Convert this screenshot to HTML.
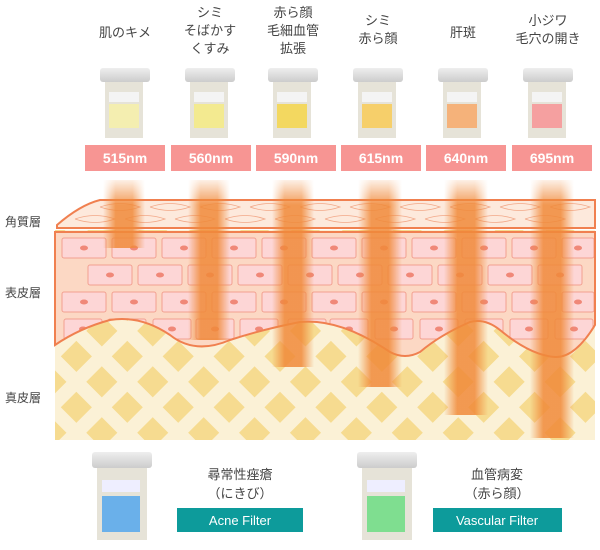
<!DOCTYPE html>
<html><head><meta charset="utf-8"><style>
body{margin:0;background:#fff;}
svg{display:block;font-family:"Liberation Sans","Noto Sans CJK JP",sans-serif;}
</style></head><body>
<svg width="600" height="550" viewBox="0 0 600 550" xmlns="http://www.w3.org/2000/svg">
<defs>
<pattern id="dia" width="36" height="36" patternUnits="userSpaceOnUse" patternTransform="rotate(45)">
<rect width="36" height="36" fill="#fbf1d6"/>
<rect x="7" y="7" width="22" height="22" fill="#f6db90"/>
</pattern>
<linearGradient id="beam" x1="0" x2="1" y1="0" y2="0">
<stop offset="0" stop-color="#f08a3a" stop-opacity="0"/>
<stop offset="0.3" stop-color="#f08a3a" stop-opacity="0.85"/>
<stop offset="0.7" stop-color="#f08a3a" stop-opacity="0.85"/>
<stop offset="1" stop-color="#f08a3a" stop-opacity="0"/>
</linearGradient>
<linearGradient id="vfade" x1="0" x2="0" y1="180" y2="205" gradientUnits="userSpaceOnUse">
<stop offset="0" stop-color="#fff" stop-opacity="0.15"/>
<stop offset="1" stop-color="#fff" stop-opacity="1"/>
</linearGradient>
<mask id="bm" maskUnits="userSpaceOnUse" x="0" y="0" width="600" height="550">
<rect x="0" y="180" width="600" height="370" fill="url(#vfade)"/>
</mask>
<linearGradient id="filt" x1="0" x2="0" y1="0" y2="1">
<stop offset="0" stop-color="#eee"/><stop offset="1" stop-color="#ccc"/>
</linearGradient>
<clipPath id="epi">
<path d="M55,232 L595,232 L595,325 Q575,358 555,357 Q530,355 500,330 Q485,318 470,322 Q440,335 420,352 Q405,360 390,352 Q340,318 300,322 Q260,330 230,340 Q195,355 170,335 Q140,315 110,320 Q80,328 55,345 Z"/>
</clipPath>
</defs>

<g font-size="13" fill="#444" text-anchor="middle">
<text x="125" y="37">肌のキメ</text>
<text x="210" y="17">シミ</text><text x="210" y="35">そばかす</text><text x="210" y="53">くすみ</text>
<text x="293" y="17">赤ら顔</text><text x="293" y="35">毛細血管</text><text x="293" y="53">拡張</text>
<text x="378" y="25">シミ</text><text x="378" y="43">赤ら顔</text>
<text x="463" y="37">肝斑</text>
<text x="548" y="25">小ジワ</text><text x="548" y="43">毛穴の開き</text>
</g>

<g>
<g transform="translate(100,68)"><rect x="0" y="0" width="50" height="14" rx="3" fill="url(#filt)"/><rect x="5" y="14" width="38" height="56" fill="#e6e3d8"/><rect x="9" y="24" width="30" height="10" fill="#f4f4f4"/><rect x="9" y="36" width="30" height="24" fill="#f4eeb0"/></g>
<g transform="translate(185,68)"><rect x="0" y="0" width="50" height="14" rx="3" fill="url(#filt)"/><rect x="5" y="14" width="38" height="56" fill="#e6e3d8"/><rect x="9" y="24" width="30" height="10" fill="#f4f4f4"/><rect x="9" y="36" width="30" height="24" fill="#f3ea90"/></g>
<g transform="translate(268,68)"><rect x="0" y="0" width="50" height="14" rx="3" fill="url(#filt)"/><rect x="5" y="14" width="38" height="56" fill="#e6e3d8"/><rect x="9" y="24" width="30" height="10" fill="#f4f4f4"/><rect x="9" y="36" width="30" height="24" fill="#f3d860"/></g>
<g transform="translate(353,68)"><rect x="0" y="0" width="50" height="14" rx="3" fill="url(#filt)"/><rect x="5" y="14" width="38" height="56" fill="#e6e3d8"/><rect x="9" y="24" width="30" height="10" fill="#f4f4f4"/><rect x="9" y="36" width="30" height="24" fill="#f6cf6a"/></g>
<g transform="translate(438,68)"><rect x="0" y="0" width="50" height="14" rx="3" fill="url(#filt)"/><rect x="5" y="14" width="38" height="56" fill="#e6e3d8"/><rect x="9" y="24" width="30" height="10" fill="#f4f4f4"/><rect x="9" y="36" width="30" height="24" fill="#f5b27a"/></g>
<g transform="translate(523,68)"><rect x="0" y="0" width="50" height="14" rx="3" fill="url(#filt)"/><rect x="5" y="14" width="38" height="56" fill="#e6e3d8"/><rect x="9" y="24" width="30" height="10" fill="#f4f4f4"/><rect x="9" y="36" width="30" height="24" fill="#f5a0a0"/></g>
</g>

<g fill="#f79593">
<rect x="85" y="145" width="80" height="26"/><rect x="171" y="145" width="80" height="26"/><rect x="256" y="145" width="80" height="26"/>
<rect x="341" y="145" width="80" height="26"/><rect x="426" y="145" width="80" height="26"/><rect x="512" y="145" width="80" height="26"/>
</g>
<g font-size="14" font-weight="bold" fill="#fff" text-anchor="middle">
<text x="125" y="163">515nm</text><text x="211" y="163">560nm</text><text x="296" y="163">590nm</text>
<text x="381" y="163">615nm</text><text x="466" y="163">640nm</text><text x="552" y="163">695nm</text>
</g>

<!-- skin -->
<rect x="55" y="230" width="540" height="210" fill="url(#dia)"/>
<path d="M55,232 L595,232 L595,325 Q575,358 555,357 Q530,355 500,330 Q485,318 470,322 Q440,335 420,352 Q405,360 390,352 Q340,318 300,322 Q260,330 230,340 Q195,355 170,335 Q140,315 110,320 Q80,328 55,345 Z" fill="#fcd8c4"/>
<g clip-path="url(#epi)">
<g fill="#fdd6d6" stroke="#f2a090" stroke-width="1">
<rect x="62" y="238" width="44" height="20" rx="2"/><rect x="112" y="238" width="44" height="20" rx="2"/><rect x="162" y="238" width="44" height="20" rx="2"/><rect x="212" y="238" width="44" height="20" rx="2"/><rect x="262" y="238" width="44" height="20" rx="2"/><rect x="312" y="238" width="44" height="20" rx="2"/><rect x="362" y="238" width="44" height="20" rx="2"/><rect x="412" y="238" width="44" height="20" rx="2"/><rect x="462" y="238" width="44" height="20" rx="2"/><rect x="512" y="238" width="44" height="20" rx="2"/><rect x="562" y="238" width="32" height="20" rx="2"/>
<rect x="88" y="265" width="44" height="20" rx="2"/><rect x="138" y="265" width="44" height="20" rx="2"/><rect x="188" y="265" width="44" height="20" rx="2"/><rect x="238" y="265" width="44" height="20" rx="2"/><rect x="288" y="265" width="44" height="20" rx="2"/><rect x="338" y="265" width="44" height="20" rx="2"/><rect x="388" y="265" width="44" height="20" rx="2"/><rect x="438" y="265" width="44" height="20" rx="2"/><rect x="488" y="265" width="44" height="20" rx="2"/><rect x="538" y="265" width="44" height="20" rx="2"/>
<rect x="62" y="292" width="44" height="20" rx="2"/><rect x="112" y="292" width="44" height="20" rx="2"/><rect x="162" y="292" width="44" height="20" rx="2"/><rect x="212" y="292" width="44" height="20" rx="2"/><rect x="262" y="292" width="44" height="20" rx="2"/><rect x="312" y="292" width="44" height="20" rx="2"/><rect x="362" y="292" width="44" height="20" rx="2"/><rect x="412" y="292" width="44" height="20" rx="2"/><rect x="462" y="292" width="44" height="20" rx="2"/><rect x="512" y="292" width="44" height="20" rx="2"/><rect x="562" y="292" width="32" height="20" rx="2"/>
<rect x="64" y="319" width="38" height="20" rx="2"/><rect x="108" y="319" width="38" height="20" rx="2"/><rect x="153" y="319" width="38" height="20" rx="2"/><rect x="196" y="319" width="38" height="20" rx="2"/><rect x="240" y="319" width="38" height="20" rx="2"/><rect x="288" y="319" width="38" height="20" rx="2"/><rect x="330" y="319" width="38" height="20" rx="2"/><rect x="375" y="319" width="38" height="20" rx="2"/><rect x="420" y="319" width="38" height="20" rx="2"/><rect x="465" y="319" width="38" height="20" rx="2"/><rect x="510" y="319" width="38" height="20" rx="2"/><rect x="555" y="319" width="38" height="20" rx="2"/>
</g>
<g fill="#f08878">
<ellipse cx="84" cy="248" rx="4" ry="2.5"/><ellipse cx="134" cy="248" rx="4" ry="2.5"/><ellipse cx="184" cy="248" rx="4" ry="2.5"/><ellipse cx="234" cy="248" rx="4" ry="2.5"/><ellipse cx="284" cy="248" rx="4" ry="2.5"/><ellipse cx="334" cy="248" rx="4" ry="2.5"/><ellipse cx="384" cy="248" rx="4" ry="2.5"/><ellipse cx="434" cy="248" rx="4" ry="2.5"/><ellipse cx="484" cy="248" rx="4" ry="2.5"/><ellipse cx="534" cy="248" rx="4" ry="2.5"/><ellipse cx="578" cy="248" rx="4" ry="2.5"/>
<ellipse cx="110" cy="275" rx="4" ry="2.5"/><ellipse cx="160" cy="275" rx="4" ry="2.5"/><ellipse cx="210" cy="275" rx="4" ry="2.5"/><ellipse cx="260" cy="275" rx="4" ry="2.5"/><ellipse cx="310" cy="275" rx="4" ry="2.5"/><ellipse cx="360" cy="275" rx="4" ry="2.5"/><ellipse cx="410" cy="275" rx="4" ry="2.5"/><ellipse cx="460" cy="275" rx="4" ry="2.5"/><ellipse cx="510" cy="275" rx="4" ry="2.5"/><ellipse cx="560" cy="275" rx="4" ry="2.5"/>
<ellipse cx="84" cy="302" rx="4" ry="2.5"/><ellipse cx="134" cy="302" rx="4" ry="2.5"/><ellipse cx="184" cy="302" rx="4" ry="2.5"/><ellipse cx="234" cy="302" rx="4" ry="2.5"/><ellipse cx="284" cy="302" rx="4" ry="2.5"/><ellipse cx="334" cy="302" rx="4" ry="2.5"/><ellipse cx="384" cy="302" rx="4" ry="2.5"/><ellipse cx="434" cy="302" rx="4" ry="2.5"/><ellipse cx="484" cy="302" rx="4" ry="2.5"/><ellipse cx="534" cy="302" rx="4" ry="2.5"/><ellipse cx="578" cy="302" rx="4" ry="2.5"/>
<ellipse cx="83" cy="329" rx="4" ry="2.5"/><ellipse cx="127" cy="329" rx="4" ry="2.5"/><ellipse cx="172" cy="329" rx="4" ry="2.5"/><ellipse cx="215" cy="329" rx="4" ry="2.5"/><ellipse cx="259" cy="329" rx="4" ry="2.5"/><ellipse cx="307" cy="329" rx="4" ry="2.5"/><ellipse cx="349" cy="329" rx="4" ry="2.5"/><ellipse cx="394" cy="329" rx="4" ry="2.5"/><ellipse cx="439" cy="329" rx="4" ry="2.5"/><ellipse cx="484" cy="329" rx="4" ry="2.5"/><ellipse cx="529" cy="329" rx="4" ry="2.5"/><ellipse cx="574" cy="329" rx="4" ry="2.5"/>
</g>
</g>
<path d="M55,232 L595,232 L595,325 Q575,358 555,357 Q530,355 500,330 Q485,318 470,322 Q440,335 420,352 Q405,360 390,352 Q340,318 300,322 Q260,330 230,340 Q195,355 170,335 Q140,315 110,320 Q80,328 55,345 Z" fill="none" stroke="#f08050" stroke-width="2"/>
<!-- stratum corneum -->
<path d="M57,225 Q80,205 100,200 L595,200 L595,228 L57,228 Z" fill="#fde9dc" stroke="#f08050" stroke-width="2"/>
<g fill="none" stroke="#f2a888" stroke-width="0.8">
<path d="M100,207 Q120,200 140,207 Q120,214 100,207 M150,207 Q170,200 190,207 Q170,214 150,207 M200,207 Q220,200 240,207 Q220,214 200,207 M250,207 Q270,200 290,207 Q270,214 250,207 M300,207 Q320,200 340,207 Q320,214 300,207 M350,207 Q370,200 390,207 Q370,214 350,207 M400,207 Q420,200 440,207 Q420,214 400,207 M450,207 Q470,200 490,207 Q470,214 450,207 M500,207 Q520,200 540,207 Q520,214 500,207 M550,207 Q570,200 590,207 Q570,214 550,207"/>
<path d="M75,219 Q95,212 115,219 Q95,226 75,219 M125,219 Q145,212 165,219 Q145,226 125,219 M175,219 Q195,212 215,219 Q195,226 175,219 M225,219 Q245,212 265,219 Q245,226 225,219 M275,219 Q295,212 315,219 Q295,226 275,219 M325,219 Q345,212 365,219 Q345,226 325,219 M375,219 Q395,212 415,219 Q395,226 375,219 M425,219 Q445,212 465,219 Q445,226 425,219 M475,219 Q495,212 515,219 Q495,226 475,219 M525,219 Q545,212 565,219 Q545,226 525,219"/>
</g>

<!-- beams -->
<g mask="url(#bm)">
<rect x="103" y="180" width="42" height="68" fill="url(#beam)"/>
<rect x="188" y="180" width="42" height="160" fill="url(#beam)"/>
<rect x="272" y="180" width="42" height="187" fill="url(#beam)"/>
<rect x="358" y="180" width="44" height="207" fill="url(#beam)"/>
<rect x="444" y="180" width="44" height="235" fill="url(#beam)"/>
<rect x="530" y="180" width="44" height="258" fill="url(#beam)"/>
</g>

<g font-size="12" fill="#444">
<text x="5" y="226">角質層</text><text x="5" y="297">表皮層</text><text x="5" y="402">真皮層</text>
</g>

<!-- bottom -->
<g transform="translate(92,452)"><rect x="0" y="0" width="60" height="16" rx="3" fill="url(#filt)"/><rect x="5" y="16" width="50" height="72" fill="#e6e3d8"/><rect x="10" y="28" width="38" height="12" fill="#eef"/><rect x="10" y="44" width="38" height="36" fill="#6ab0ea"/></g>
<g transform="translate(357,452)"><rect x="0" y="0" width="60" height="16" rx="3" fill="url(#filt)"/><rect x="5" y="16" width="50" height="72" fill="#e6e3d8"/><rect x="10" y="28" width="38" height="12" fill="#eef"/><rect x="10" y="44" width="38" height="36" fill="#7fde90"/></g>
<g font-size="13" fill="#444" text-anchor="middle">
<text x="240" y="479">尋常性痤瘡</text><text x="240" y="498">（にきび）</text>
<text x="497" y="479">血管病変</text><text x="497" y="498">（赤ら顔）</text>
</g>
<rect x="177" y="508" width="126" height="24" fill="#0d9b9b"/>
<rect x="433" y="508" width="129" height="24" fill="#0d9b9b"/>
<g font-size="13" fill="#fff" text-anchor="middle">
<text x="240" y="525">Acne Filter</text><text x="497" y="525">Vascular Filter</text>
</g>
</svg>
</body></html>
